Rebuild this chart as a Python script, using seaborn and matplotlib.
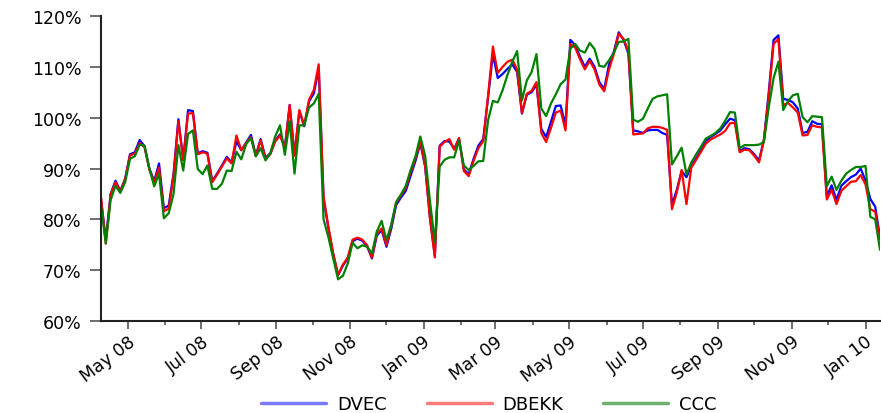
import pandas as pd
import seaborn as sns
import matplotlib
matplotlib.use("Agg")
import matplotlib.pyplot as plt
import matplotlib.dates as mdates
import matplotlib.lines as mline
from matplotlib.ticker import PercentFormatter

# series sampled every 4 days from 9 Apr 2008
start_date = "2008-04-09"
n_points = 162

dvec = [84.0, 76.0, 85.0, 87.6, 85.6, 88.0, 92.8, 93.2, 95.6, 94.4,
        90.0, 87.5, 91.0, 82.2, 82.7, 89.0, 99.7, 91.8, 101.5, 101.3,
        93.0, 93.4, 93.1, 87.5, 89.0, 90.6, 92.3, 91.2, 95.3, 93.6,
        95.1, 96.6, 92.6, 95.8, 92.1, 93.0, 95.5, 96.7, 94.2, 102.5,
        92.7, 101.3, 98.3, 103.2, 104.8, 109.6, 84.0, 78.3, 73.1, 69.0,
        70.9, 72.3, 75.7, 76.2, 75.8, 74.7, 72.3, 76.8, 77.9, 74.6,
        78.2, 82.8, 84.3, 85.6, 88.6, 91.5, 95.0, 90.3, 80.3, 72.8,
        94.5, 95.4, 95.3, 93.9, 95.9, 89.8, 88.9, 91.9, 94.5, 95.8,
        104.0, 112.5, 107.8, 108.6, 109.6, 110.5, 109.0, 100.8, 104.5, 105.0,
        106.5, 97.8, 96.2, 99.2, 102.3, 102.4, 98.5, 115.3, 114.3, 112.0,
        110.0, 111.6, 110.0, 107.0, 105.6, 110.5, 113.0, 116.8, 115.3, 112.6,
        97.5, 97.3, 97.0, 97.5, 97.6, 97.6, 97.0, 96.6, 82.8, 85.8,
        89.5, 88.3, 90.4, 92.0, 93.6, 95.5, 96.2, 96.8, 97.5, 98.7,
        99.8, 99.5, 93.4, 94.0, 93.8, 92.8, 91.6, 95.6, 105.0, 115.3,
        116.2, 103.7, 103.5, 103.0, 101.8, 97.0, 97.2, 99.3, 98.8, 98.7,
        84.5, 86.7, 83.8, 86.6, 87.5, 88.3, 88.8, 90.0, 87.6, 84.0,
        82.5, 76.5]

dbekk = [84.5, 75.2, 84.9, 87.3, 85.5, 87.9, 92.6, 92.9, 95.0, 94.2,
         89.8, 87.3, 90.2, 81.6, 82.1, 88.5, 99.3, 91.6, 100.8, 100.9,
         92.8, 93.2, 92.9, 87.3, 88.8, 90.4, 92.0, 91.0, 96.5, 93.6,
         95.0, 96.2, 92.4, 95.6, 91.9, 92.8, 95.3, 96.5, 94.0, 102.5,
         92.5, 101.5, 98.5, 103.5, 105.5, 110.5, 84.5, 78.5, 73.3, 69.1,
         71.1, 72.5, 76.0, 76.4, 76.0, 74.9, 72.5, 77.1, 78.2, 74.9,
         78.8, 83.3, 84.7, 86.2, 89.3, 92.0, 95.3, 90.5, 80.0, 72.5,
         94.3, 95.2, 95.8, 93.7, 96.0, 89.5, 88.5, 91.5, 94.0, 95.4,
         104.3, 114.0, 108.8, 110.0, 111.0, 111.4, 109.5, 100.9, 104.7, 105.3,
         107.0, 97.0, 95.2, 98.0, 101.0, 101.4, 97.5, 114.5, 113.8, 111.5,
         109.5, 111.2, 109.5, 106.5, 105.2, 109.5, 112.6, 116.5, 115.5, 113.0,
         96.7, 96.8, 96.9, 97.9, 98.2, 98.2, 98.0, 97.6, 82.0, 85.3,
         89.7, 83.0, 90.2, 91.7, 93.3, 94.9, 95.7, 96.2, 96.7, 97.4,
         98.9, 99.0, 93.2, 93.7, 93.6, 92.5, 91.2, 95.6, 104.2, 114.5,
         115.5, 102.5, 102.9, 102.0, 101.0, 96.5, 96.6, 98.5, 98.2, 98.1,
         83.9, 85.8, 83.0, 85.6, 86.5, 87.4, 87.5, 88.7, 86.9, 82.0,
         81.5, 76.0]

ccc = [82.8, 75.3, 83.8, 86.6, 85.2, 87.3, 91.9, 92.4, 94.7, 94.5,
       90.0, 86.5, 89.0, 80.2, 81.2, 85.0, 94.6, 89.6, 96.8, 97.5,
       89.9, 88.9, 90.6, 86.0, 86.0, 87.0, 89.6, 89.5, 93.3, 91.8,
       94.8, 96.0, 92.4, 94.0, 91.6, 93.0, 96.3, 98.5, 92.7, 99.3,
       89.0, 98.5, 98.5, 102.0, 102.8, 104.7, 80.0, 76.5, 72.3, 68.2,
       68.9, 71.3, 75.4, 74.3, 74.9, 74.6, 73.3, 77.6, 79.7, 75.9,
       79.0, 83.4, 84.9, 86.6, 89.7, 92.4, 96.3, 92.5, 83.5, 75.5,
       90.4, 91.7, 92.2, 92.2, 95.5, 90.6, 89.7, 90.5, 91.4, 91.5,
       99.5, 103.3, 103.0, 105.4, 108.4, 111.0, 113.1, 103.4, 107.3, 109.0,
       112.5, 101.8, 100.3, 102.8, 104.6, 106.6, 107.5, 113.6, 114.5, 113.2,
       112.8, 114.7, 113.5, 110.2, 110.0, 111.3, 112.8, 114.9, 115.0, 115.5,
       99.6, 99.2, 99.8, 101.8, 103.7, 104.2, 104.4, 104.6, 90.8, 92.4,
       94.1, 88.8, 91.2, 92.8, 94.3, 95.9, 96.4, 97.0, 97.9, 99.4,
       101.1, 101.0, 94.0, 94.6, 94.6, 94.6, 94.7, 95.2, 102.0, 107.8,
       111.0, 101.5, 103.3, 104.4, 104.7, 100.1, 99.1, 100.3, 100.2, 100.1,
       86.5, 88.4, 85.8, 87.6, 89.0, 89.7, 90.3, 90.3, 90.5, 80.5,
       80.0, 74.0]

names = ["DVEC", "DBEKK", "CCC"]
colors = {"DVEC": "#0000ff", "DBEKK": "#ff0000", "CCC": "#008000"}
legend_colors = ["#7a7aff", "#ff7a7a", "#70b070"]

dates = pd.date_range(start_date, periods=n_points, freq="4D")
wide = pd.DataFrame({"DVEC": dvec, "DBEKK": dbekk, "CCC": ccc}, index=dates)
wide.index.name = "date"
df = wide.reset_index().melt(id_vars="date", var_name="model", value_name="value")

sns.set_theme(style="ticks")
plt.rcParams["font.family"] = ["DejaVu Sans"]

fig = plt.figure(figsize=(8.81, 4.14), dpi=100)
ax = fig.add_axes([0.1146, 0.2222, 0.8843, 0.7367])

sns.lineplot(data=df, x="date", y="value", hue="model", hue_order=names,
             palette=colors, linewidth=1.6, legend=False, ax=ax)

ax.set_xlim(dates[0], dates[-1])
ax.set_ylim(60, 120)
ax.set_yticks(range(60, 121, 10))
ax.yaxis.set_major_formatter(PercentFormatter(decimals=0))
ax.xaxis.set_major_locator(mdates.MonthLocator(bymonth=[1, 3, 5, 7, 9, 11]))
ax.xaxis.set_minor_locator(mdates.MonthLocator(bymonth=[2, 4, 6, 8, 10, 12]))
ax.xaxis.set_major_formatter(mdates.DateFormatter("%b %y"))
ax.set_xlabel("")
ax.set_ylabel("")

ax.tick_params(axis="y", which="major", labelsize=12.5, length=8, width=1.2,
               color="#555555", labelcolor="black", direction="out", pad=6)
ax.tick_params(axis="x", which="major", labelsize=12.5, length=6, width=1.2,
               color="#555555", labelcolor="black", direction="out", pad=2)
ax.tick_params(axis="x", which="minor", length=3, width=1.2, color="#555555")

for lab in ax.get_xticklabels():
    lab.set_rotation(37)
    lab.set_ha("right")
    lab.set_va("top")
    lab.set_rotation_mode("anchor")

sns.despine(ax=ax)
for s in ["left", "bottom"]:
    ax.spines[s].set_linewidth(1.5)
    ax.spines[s].set_color("#222222")

handles = [mline.Line2D([], [], color=c, lw=2.5, label=n)
           for c, n in zip(legend_colors, names)]
leg = fig.legend(handles=handles, loc="lower center", bbox_to_anchor=(0.555, -0.04),
                 ncol=3, frameon=False, fontsize=13, handlelength=3.6,
                 columnspacing=2.2, handletextpad=0.6)
for t in leg.get_texts():
    t.set_color("black")

fig.savefig("out.png", dpi=100)
